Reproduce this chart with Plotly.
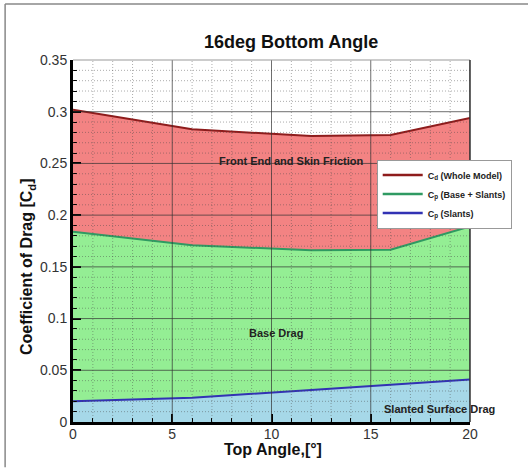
import plotly.graph_objects as go

# ---- data ----
top_angle = [0, 6, 12, 16, 20]
cd_whole = [0.302, 0.283, 0.2765, 0.2775, 0.294]
cp_base_slants = [0.184, 0.171, 0.166, 0.1665, 0.189]
cp_slants = [0.020, 0.0235, 0.031, 0.036, 0.041]

series_names = ["C<sub>d</sub> (Whole Model)", "C<sub>p</sub> (Base + Slants)", "C<sub>p</sub> (Slants)"]
x_ticks = [0, 5, 10, 15, 20]
y_ticks = [0, 0.05, 0.1, 0.15, 0.2, 0.25, 0.3, 0.35]
x_minor = [i for i in range(0, 21)]
y_minor = [i / 100 for i in range(0, 36)]

FONT = "Arial, Liberation Sans, sans-serif"
RED_L, GRN_L, BLU_L = "#8e1c1c", "#2f9a62", "#3232b4"

fig = go.Figure()
fig.add_trace(go.Scatter(x=top_angle, y=cp_slants, mode="lines", fill="tozeroy",
                         fillcolor="#a6d8e8", line=dict(color=BLU_L, width=2), showlegend=False))
fig.add_trace(go.Scatter(x=top_angle, y=cp_base_slants, mode="lines", fill="tonexty",
                         fillcolor="#94ee94", line=dict(color=GRN_L, width=2), showlegend=False))
fig.add_trace(go.Scatter(x=top_angle, y=cd_whole, mode="lines", fill="tonexty",
                         fillcolor="#f38383", line=dict(color=RED_L, width=2), showlegend=False))
# legend entries (lines only)
for nm, col in zip(series_names, [RED_L, GRN_L, BLU_L]):
    fig.add_trace(go.Scatter(x=[None], y=[None], mode="lines", line=dict(color=col, width=2.5),
                             name="<b>" + nm + "</b>"))

MINOR = dict(color="rgba(70,70,70,0.45)", width=1, dash="1px,2px")
MAJOR = dict(color="rgba(50,50,50,0.7)", width=1)
shapes = []
for v in x_minor:
    if v not in x_ticks:
        shapes.append(dict(type="line", xref="x", yref="paper", x0=v, x1=v, y0=0, y1=1,
                           line=MINOR, layer="above"))
for v in y_minor:
    if round(v, 2) not in [round(t, 2) for t in y_ticks]:
        shapes.append(dict(type="line", xref="paper", yref="y", x0=0, x1=1, y0=v, y1=v,
                           line=MINOR, layer="above"))
for v in x_ticks[1:]:
    shapes.append(dict(type="line", xref="x", yref="paper", x0=v, x1=v, y0=0, y1=1,
                       line=MAJOR, layer="above"))
for v in y_ticks[1:-1]:
    shapes.append(dict(type="line", xref="paper", yref="y", x0=0, x1=1, y0=v, y1=v,
                       line=MAJOR, layer="above"))
# outer picture frame (left & top)
shapes.append(dict(type="line", xref="paper", yref="paper", x0=-0.171, x1=-0.171, y0=-0.125, y1=1.155,
                   line=dict(color="#888", width=1.5), layer="above"))
shapes.append(dict(type="line", xref="paper", yref="paper", x0=-0.171, x1=1.16, y0=1.155, y1=1.155,
                   line=dict(color="#888", width=1.5), layer="above"))
# thin top/right frame of plot area
shapes.append(dict(type="line", xref="paper", yref="paper", x0=0, x1=1, y0=1, y1=1,
                   line=dict(color="#999", width=1), layer="above"))
shapes.append(dict(type="line", xref="paper", yref="paper", x0=1, x1=1, y0=0, y1=1,
                   line=dict(color="#333", width=1.5), layer="above"))

annotations = [
    dict(text="<b>16deg Bottom Angle</b>", xref="paper", yref="paper", x=0.548, y=1.05,
         xanchor="center", yanchor="middle", showarrow=False, font=dict(size=18, color="#111", family=FONT)),
    dict(text="<b>Top Angle,[°]</b>", xref="paper", yref="paper", x=0.505, y=-0.075,
         xanchor="center", yanchor="middle", showarrow=False, font=dict(size=16, color="#111", family=FONT)),
    dict(text="<b>Coefficient of Drag [C<sub>d</sub>]</b>", xref="paper", yref="paper", x=-0.114, y=0.43,
         xanchor="center", yanchor="middle", textangle=-90, showarrow=False,
         font=dict(size=16, color="#111", family=FONT)),
    dict(text="<b>Front End and Skin Friction</b>", xref="x", yref="y", x=11.0, y=0.2526,
         showarrow=False, font=dict(size=11, color="#222", family=FONT)),
    dict(text="<b>Base Drag</b>", xref="x", yref="y", x=10.25, y=0.086,
         showarrow=False, font=dict(size=11, color="#222", family=FONT)),
    dict(text="<b>Slanted Surface Drag</b>", xref="x", yref="y", x=18.47, y=0.0123,
         showarrow=False, font=dict(size=11, color="#222", family=FONT)),
]

fig.update_layout(
    width=528, height=472,
    margin=dict(l=73, r=58, t=60, b=50),
    paper_bgcolor="white", plot_bgcolor="white",
    font=dict(family=FONT, color="#333"),
    shapes=shapes, annotations=annotations,
    legend=dict(x=0.765, y=0.725, xanchor="left", yanchor="top", traceorder="normal",
                bgcolor="white", bordercolor="#999", borderwidth=1,
                font=dict(size=9, color="#222", family=FONT),
                tracegroupgap=0, itemwidth=40),
    showlegend=True,
)
fig.update_xaxes(range=[0, 20], tickvals=x_ticks, showgrid=False, zeroline=False,
                 showline=True, linecolor="black", linewidth=3,
                 ticks="inside", ticklen=8, tickwidth=2, tickcolor="black",
                 ticklabelstandoff=-3,
                 tickfont=dict(size=14, color="#333"),
                 minor=dict(tickvals=x_minor, ticks="inside", ticklen=4, tickwidth=1, tickcolor="black"))
fig.update_yaxes(range=[0, 0.35], tickvals=y_ticks, showgrid=False, zeroline=False,
                 showline=True, linecolor="black", linewidth=3,
                 ticks="inside", ticklen=8, tickwidth=2, tickcolor="black",
                 tickfont=dict(size=14, color="#333"),
                 minor=dict(tickvals=y_minor, ticks="inside", ticklen=4, tickwidth=1, tickcolor="black"))

fig.write_html("out.html")
